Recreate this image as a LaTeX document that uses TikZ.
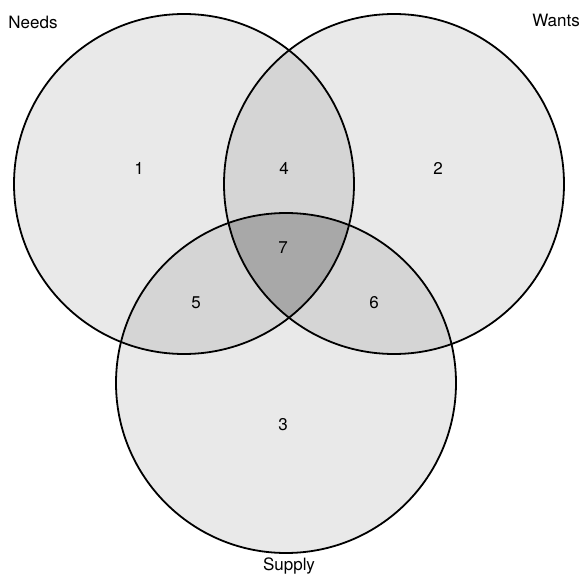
\documentclass[tikz,border=0pt]{standalone}
\usepackage{fontspec}
\setmainfont{TeX Gyre Heros}
\begin{document}
\begin{tikzpicture}[x=1pt,y=-1pt,
  lbl/.style={font=\fontsize{17}{20}\selectfont, inner sep=0pt},
  ring/.style={draw=black, line width=1.8pt}]
\useasboundingbox (0,0) rectangle (584,575);
\def\ra{170}
\coordinate (cN) at (184,184);
\coordinate (cW) at (394,184);
\coordinate (cS) at (286,383);
% single fills
\fill[gray!17] (cN) circle (\ra);
\fill[gray!17] (cW) circle (\ra);
\fill[gray!17] (cS) circle (\ra);
% double overlaps
\begin{scope}
  \clip (cN) circle (\ra);
  \fill[gray!33] (cW) circle (\ra);
  \fill[gray!33] (cS) circle (\ra);
\end{scope}
\begin{scope}
  \clip (cW) circle (\ra);
  \fill[gray!33] (cS) circle (\ra);
\end{scope}
% triple overlap
\begin{scope}
  \clip (cN) circle (\ra);
  \clip (cW) circle (\ra);
  \fill[gray!68] (cS) circle (\ra);
\end{scope}
\draw[ring] (cN) circle (\ra);
\draw[ring] (cW) circle (\ra);
\draw[ring] (cS) circle (\ra);
\node[lbl] (needs) at (33,22) {Needs};
\node[lbl] (wants) at (556,20) {Wants};
\node[lbl] (supply) at (289,566) {Supply};
\node[lbl] (n1) at (139,168) {1};
\node[lbl] (n4) at (284,168) {4};
\node[lbl] (n2) at (438,168) {2};
\node[lbl] (n7) at (283,248) {7};
\node[lbl] (n5) at (196,303) {5};
\node[lbl] (n6) at (374,303) {6};
\node[lbl] (n3) at (283,425) {3};
\end{tikzpicture}
\end{document}
